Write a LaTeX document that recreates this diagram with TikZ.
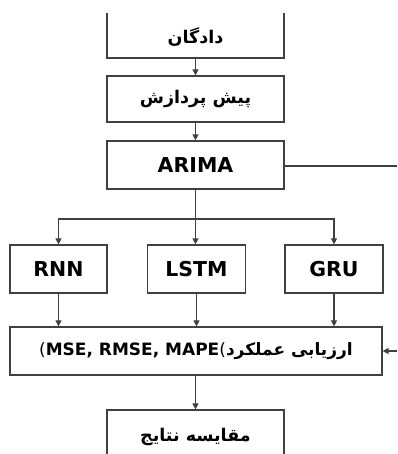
\documentclass[tikz,border=0pt]{standalone}
\usepackage{fontspec}
\setmainfont{DejaVu Sans}
\newfontfamily\fa[Script=Arabic]{DejaVu Sans}
\TeXXeTstate=1
\usetikzlibrary{arrows.meta}
\definecolor{linec}{HTML}{404040}
\tikzset{
  box/.style={draw=linec, line width=1.2pt, fill=white, inner sep=0pt},
  lbl/.style={font=\bfseries\fontsize{20.5}{24}\selectfont, text=black, inner sep=0pt},
  falbl/.style={font=\fa\bfseries\fontsize{17.5}{22}\selectfont, text=black, inner sep=0pt},
  conn/.style={draw=linec, line width=1.1pt},
  arr/.style={conn, -{Triangle[length=6pt,width=6pt]}}
}
\begin{document}
\begin{tikzpicture}[x=1pt,y=-1pt]
\useasboundingbox (0,0) rectangle (397,454);
\clip (0,14) rectangle (397,454);
% boxes
\node[box, minimum width=177pt, minimum height=88pt] (data) at (195.5,14) {};
\node[falbl] (datat) at (195.5,37) {\beginR دادگان\endR};
\node[box, minimum width=177pt, minimum height=46pt] (pre) at (195.5,99) {};
\node[falbl] (pret) at (195.5,99) {\beginR پیش پردازش\endR};
\node[box, minimum width=177pt, minimum height=48pt] (arima) at (195.5,165) {};
\node[lbl] (arimat) at (195.5,165) {ARIMA};
\node[box, minimum width=97pt, minimum height=48pt] (rnn) at (58.5,269) {};
\node[lbl] (rnnt) at (58.5,269) {RNN};
\node[box, minimum width=98pt, minimum height=48pt] (lstm) at (196.5,269) {};
\node[lbl] (lstmt) at (196.5,269) {LSTM};
\node[box, minimum width=98pt, minimum height=48pt] (gru) at (334,269) {};
\node[lbl] (grut) at (334,269) {GRU};
\node[box, minimum width=372pt, minimum height=48pt] (eval) at (196,351) {};
\node[inner sep=0pt, text=black] (evalt) at (196,351) {{\fontsize{17}{20}\selectfont (}{\bfseries\fontsize{17}{20}\selectfont MSE, RMSE, MAPE}{\fontsize{17}{20}\selectfont (}{\fa\bfseries\fontsize{17}{20}\selectfont\beginR ارزیابی عملکرد\endR}};
\node[box, minimum width=177pt, minimum height=88pt] (comp) at (195.5,454) {};
\node[falbl] (compt) at (195.5,437) {\beginR مقایسه نتایج\endR};
% connectors
\coordinate (split) at (196,219);
\coordinate (arimaout) at (397,166);
\coordinate (evalin) at (397,351);
\draw[arr] (data.south) -- (pre.north);
\draw[arr] (pre.south) -- (arima.north);
\draw[arr] (arima.south) -- (lstm.north -| arima.south);
\draw[arr] (split) -| (rnn.north);
\draw[arr] (split) -| (gru.north);
\draw[conn] (arima.east |- arimaout) -- (arimaout);
\draw[arr] (rnn.south) -- (rnn.south |- eval.north);
\draw[arr] (lstm.south) -- (lstm.south |- eval.north);
\draw[arr] (gru.south) -- (gru.south |- eval.north);
\draw[arr] (evalin) -- (eval.east |- evalin);
\draw[arr] (eval.south -| comp.north) -- (comp.north);
\end{tikzpicture}
\end{document}
